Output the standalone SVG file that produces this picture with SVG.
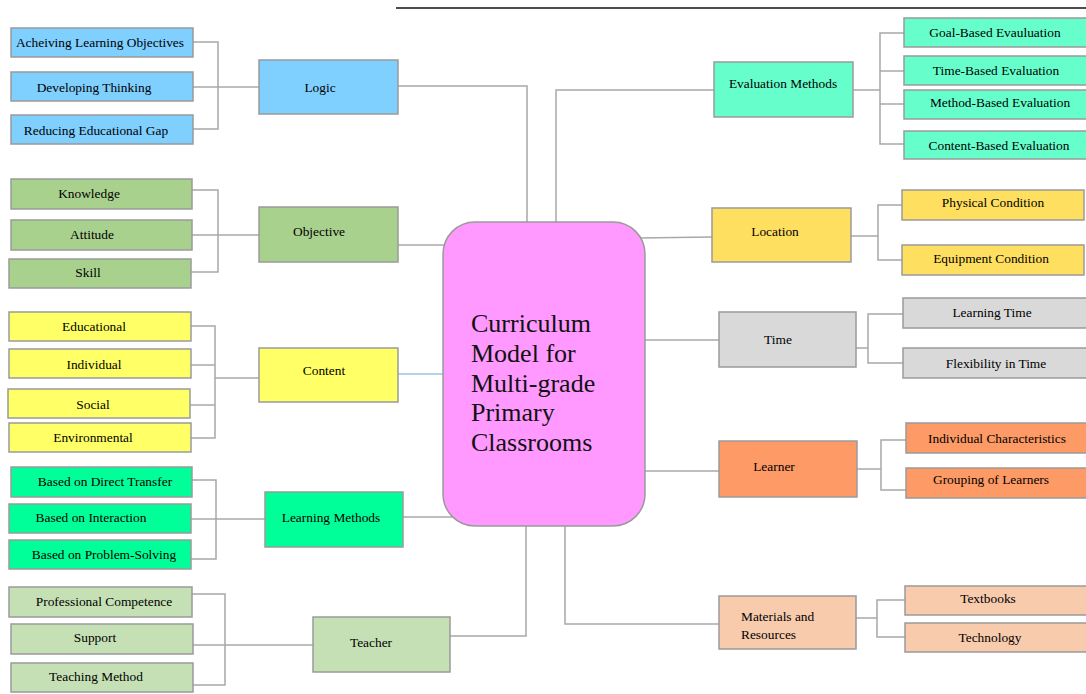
<svg xmlns="http://www.w3.org/2000/svg" width="1086" height="694" viewBox="0 0 1086 694">
<style>
.b{stroke:#9a9a9a;stroke-width:1.5}
.t{font-family:'Liberation Serif',serif;font-size:13.4px;fill:#000;text-anchor:middle}
.c{fill:none;stroke:#a8a8a8;stroke-width:1.5}
.blue{fill:#7fcfff}.og{fill:#a9d18e}.yel{fill:#ffff66}.lm{fill:#00ff99}.tch{fill:#c5e0b4}
.ev{fill:#66ffcc}.loc{fill:#ffdf60}.tm{fill:#d9d9d9}.lr{fill:#fd9a66}.mat{fill:#f8cbad}
</style>
<rect width="1086" height="694" fill="#ffffff"/>
<line x1="396" y1="8" x2="1086" y2="8" stroke="#111" stroke-width="1.3"/>
<g id="connectors">
<polyline class="c" points="398,86 527,86 527,230"/>
<polyline class="c" points="556,230 556,90 714,90"/>
<polyline class="c" points="398,245 450,245"/>
<polyline class="c" points="398,374 450,374" style="stroke:#9dc3e6"/>
<polyline class="c" points="403,517 460,517"/>
<polyline class="c" points="450,636 526,636 526,518"/>
<polyline class="c" points="565,518 565,624 719,624"/>
<polyline class="c" points="638,238 712,237"/>
<polyline class="c" points="638,340 719,340"/>
<polyline class="c" points="638,471 719,471"/>
<polyline class="c" points="193,42 218,42 218,129 193,129"/>
<polyline class="c" points="193,87 259,87"/>
<polyline class="c" points="192,190 218,190 218,272 191,272"/>
<polyline class="c" points="192,235 259,235"/>
<polyline class="c" points="191,326 215,326 215,438 191,438"/>
<polyline class="c" points="191,365 215,365"/>
<polyline class="c" points="190,405 215,405"/>
<polyline class="c" points="215,378 259,378"/>
<polyline class="c" points="192,480 216,480 216,559 191,559"/>
<polyline class="c" points="191,519 265,519"/>
<polyline class="c" points="192,594 225,594 225,685 193,685"/>
<polyline class="c" points="193,645 313,645"/>
<polyline class="c" points="853,90 880,90"/>
<polyline class="c" points="904,33 880,33 880,144 904,144"/>
<polyline class="c" points="880,71 904,71"/>
<polyline class="c" points="880,104 904,104"/>
<polyline class="c" points="851,236 878,236"/>
<polyline class="c" points="902,205 878,205 878,260 902,260"/>
<polyline class="c" points="856,348 868,348"/>
<polyline class="c" points="903,314 868,314 868,363 903,363"/>
<polyline class="c" points="857,469 881,469"/>
<polyline class="c" points="906,440 881,440 881,490 906,490"/>
<polyline class="c" points="856,618 877,618"/>
<polyline class="c" points="905,600 877,600 877,637 905,637"/>
</g>
<g id="center">
<rect x="443" y="222" width="202" height="304" rx="32" ry="32" fill="#ff99ff" stroke="#9a9a9a" stroke-width="1.5"/>
<text font-family="'Liberation Serif', serif" font-size="26" fill="#111">
<tspan x="471" y="332">Curriculum</tspan>
<tspan x="471" y="362">Model for</tspan>
<tspan x="471" y="392">Multi-grade</tspan>
<tspan x="471" y="421">Primary</tspan>
<tspan x="471" y="451">Classrooms</tspan>
</text>
</g>
<g id="logic">
<rect class="b blue" x="259" y="60" width="139" height="54"/>
<text class="t" x="320" y="92">Logic</text>
</g>
<g id="logic-1"><rect class="b blue" x="11" y="28" width="182" height="29"/><text class="t" x="100" y="47">Acheiving Learning Objectives</text></g>
<g id="logic-2"><rect class="b blue" x="11" y="72" width="182" height="29"/><text class="t" x="94" y="92">Developing Thinking</text></g>
<g id="logic-3"><rect class="b blue" x="11" y="115" width="182" height="29"/><text class="t" x="96" y="135">Reducing Educational Gap</text></g>
<g id="objective">
<rect class="b og" x="259" y="207" width="139" height="55"/>
<text class="t" x="319" y="236">Objective</text>
</g>
<g id="obj-1"><rect class="b og" x="11" y="179" width="181" height="30"/><text class="t" x="89" y="198">Knowledge</text></g>
<g id="obj-2"><rect class="b og" x="11" y="220" width="181" height="30"/><text class="t" x="92" y="239">Attitude</text></g>
<g id="obj-3"><rect class="b og" x="9" y="259" width="182" height="29"/><text class="t" x="88" y="277">Skill</text></g>
<g id="content">
<rect class="b yel" x="259" y="348" width="139" height="54"/>
<text class="t" x="324" y="375">Content</text>
</g>
<g id="content-1"><rect class="b yel" x="9" y="312" width="182" height="29"/><text class="t" x="94" y="331">Educational</text></g>
<g id="content-2"><rect class="b yel" x="9" y="349" width="182" height="29"/><text class="t" x="94" y="369">Individual</text></g>
<g id="content-3"><rect class="b yel" x="8" y="389" width="182" height="29"/><text class="t" x="93" y="409">Social</text></g>
<g id="content-4"><rect class="b yel" x="9" y="423" width="182" height="29"/><text class="t" x="93" y="442">Environmental</text></g>
<g id="learning-methods">
<rect class="b lm" x="265" y="492" width="138" height="55"/>
<text class="t" x="331" y="522">Learning Methods</text>
</g>
<g id="lm-1"><rect class="b lm" x="11" y="467" width="181" height="30"/><text class="t" x="105" y="486">Based on Direct Transfer</text></g>
<g id="lm-2"><rect class="b lm" x="9" y="504" width="182" height="29"/><text class="t" x="91" y="522">Based on Interaction</text></g>
<g id="lm-3"><rect class="b lm" x="9" y="540" width="182" height="29"/><text class="t" x="104" y="559">Based on Problem-Solving</text></g>
<g id="teacher">
<rect class="b tch" x="313" y="617" width="137" height="55"/>
<text class="t" x="371" y="647">Teacher</text>
</g>
<g id="teacher-1"><rect class="b tch" x="9" y="587" width="183" height="30"/><text class="t" x="104" y="606">Professional Competence</text></g>
<g id="teacher-2"><rect class="b tch" x="11" y="624" width="182" height="30"/><text class="t" x="95" y="642">Support</text></g>
<g id="teacher-3"><rect class="b tch" x="11" y="663" width="182" height="29"/><text class="t" x="96" y="681">Teaching Method</text></g>
<g id="evaluation">
<rect class="b ev" x="714" y="62" width="139" height="55"/>
<text class="t" x="783" y="88">Evaluation Methods</text>
</g>
<g id="eval-1"><rect class="b ev" x="904" y="18" width="186" height="29"/><text class="t" x="995" y="37">Goal-Based Evauluation</text></g>
<g id="eval-2"><rect class="b ev" x="904" y="56" width="186" height="29"/><text class="t" x="996" y="75">Time-Based Evaluation</text></g>
<g id="eval-3"><rect class="b ev" x="904" y="90" width="186" height="29"/><text class="t" x="1000" y="107">Method-Based Evaluation</text></g>
<g id="eval-4"><rect class="b ev" x="904" y="131" width="186" height="28"/><text class="t" x="999" y="150">Content-Based Evaluation</text></g>
<g id="location">
<rect class="b loc" x="712" y="208" width="139" height="54"/>
<text class="t" x="775" y="236">Location</text>
</g>
<g id="loc-1"><rect class="b loc" x="902" y="190" width="182" height="30"/><text class="t" x="993" y="207">Physical Condition</text></g>
<g id="loc-2"><rect class="b loc" x="902" y="245" width="182" height="30"/><text class="t" x="991" y="263">Equipment Condition</text></g>
<g id="time">
<rect class="b tm" x="719" y="312" width="137" height="55"/>
<text class="t" x="778" y="344">Time</text>
</g>
<g id="time-1"><rect class="b tm" x="903" y="298" width="187" height="30"/><text class="t" x="992" y="317">Learning Time</text></g>
<g id="time-2"><rect class="b tm" x="903" y="348" width="187" height="30"/><text class="t" x="996" y="368">Flexibility in Time</text></g>
<g id="learner">
<rect class="b lr" x="719" y="441" width="138" height="56"/>
<text class="t" x="774" y="471">Learner</text>
</g>
<g id="learner-1"><rect class="b lr" x="906" y="423" width="184" height="30"/><text class="t" x="997" y="443">Individual Characteristics</text></g>
<g id="learner-2"><rect class="b lr" x="906" y="468" width="184" height="30"/><text class="t" x="991" y="484">Grouping of Learners</text></g>
<g id="materials">
<rect class="b mat" x="719" y="596" width="137" height="53"/>
<text class="t" style="text-anchor:start" x="741" y="621">Materials and</text>
<text class="t" style="text-anchor:start" x="741" y="639">Resources</text>
</g>
<g id="mat-1"><rect class="b mat" x="905" y="586" width="185" height="29"/><text class="t" x="988" y="603">Textbooks</text></g>
<g id="mat-2"><rect class="b mat" x="905" y="623" width="185" height="29"/><text class="t" x="990" y="642">Technology</text></g>
</svg>
